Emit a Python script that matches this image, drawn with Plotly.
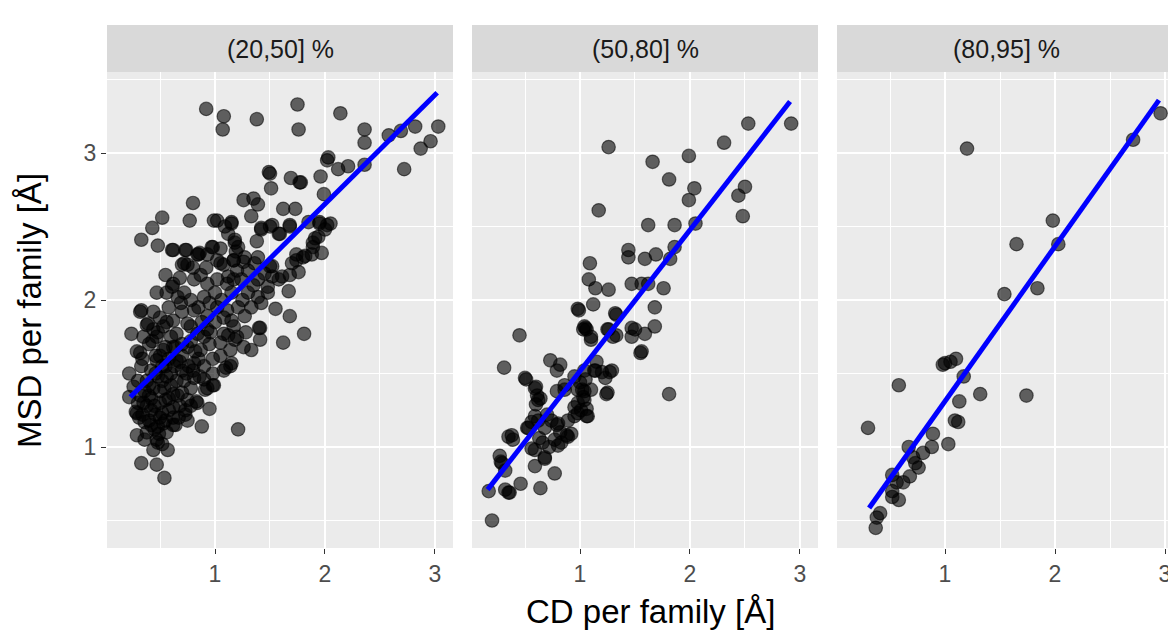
import plotly.graph_objects as go

# ---------------- data ----------------
facet_labels = ["(20,50] %", "(50,80] %", "(80,95] %"]
x_title = "CD per family [Å]"
y_title = "MSD per family [Å]"
x_tick_vals = [1, 2, 3]
y_tick_vals = [1, 2, 3]

p1_cd = [
    0.92, 1.08, 1.07, 1.38, 1.75, 1.76, 2.14, 2.36, 2.36, 2.58,
    2.69, 2.82, 3.03, 2.96, 2.87, 2.72, 2.03, 2.02, 2.12, 2.21,
    2.36, 1.49, 1.50, 1.51, 1.69, 1.77, 1.78, 1.96, 1.99, 0.80,
    1.26, 1.35, 1.39, 1.33, 1.62, 1.73, 1.85, 1.95, 2.02, 0.52,
    0.43, 0.33, 0.77, 0.99, 1.09, 1.15, 0.48, 0.62, 0.74, 0.86,
    0.98, 1.18, 1.19, 1.38, 1.42, 1.50, 1.59, 1.68, 1.74, 1.80,
    1.97, 1.89, 1.94, 0.55, 0.70, 0.72, 1.05, 1.17, 1.26, 1.39,
    1.50, 1.61, 1.68, 1.76, 0.47, 0.61, 1.67, 1.55, 1.68, 1.81,
    1.41, 1.20, 0.24, 0.33, 0.39, 0.29, 0.22, 0.22, 0.29, 0.29,
    0.36, 0.44, 0.48, 0.33, 0.47, 0.54, 0.83, 0.95, 0.88, 1.21,
    0.98, 0.91, 1.15, 1.10, 1.33, 1.41, 1.40, 1.62, 1.26, 0.62,
    0.73, 0.61, 0.73, 0.85, 0.97, 1.02, 1.15, 0.26, 0.31, 0.28,
    0.47, 0.49, 0.84, 0.75, 0.73, 0.75, 0.70, 0.64, 0.62, 0.53,
    0.52, 0.93, 0.99, 0.90, 0.81, 1.08, 1.14, 0.56, 0.32, 0.44,
    0.38, 0.32, 0.43, 0.47, 0.44, 0.75, 0.84, 0.93, 1.02, 1.08,
    1.17, 0.62, 0.72, 0.81, 0.87, 0.93, 1.02, 1.11, 1.17, 0.69,
    0.81, 0.62, 0.75, 0.53, 0.65, 0.84, 0.93, 1.02, 1.11, 0.93,
    1.08, 1.17, 1.05, 1.14, 0.87, 0.75, 0.62, 0.53, 0.47, 0.65,
    0.81, 1.12, 1.21, 1.27, 1.36, 1.12, 1.24, 1.39, 1.48, 1.15,
    1.30, 1.39, 1.48, 1.21, 1.33, 1.27, 1.15, 1.12, 1.18, 1.45,
    1.52, 1.58, 1.70, 1.74, 1.18, 1.42, 1.52, 1.58, 1.68, 1.95,
    2.05, 2.00, 1.91, 1.89, 1.82, 1.88, 1.52, 0.35, 0.40, 0.45,
    0.50, 0.55, 0.60, 0.38, 0.42, 0.48, 0.55, 0.60, 0.65, 0.68,
    0.58, 0.40, 0.45, 0.50, 0.56, 0.36, 0.33, 0.52, 0.44, 0.62,
    0.70, 0.78, 0.72, 0.46, 0.55, 0.40, 0.60, 0.70, 0.78, 0.85,
    0.90, 0.88, 0.95, 0.98, 0.70, 0.58, 0.50, 0.78, 0.90, 1.00,
    0.85, 0.66, 0.98, 1.05, 0.42, 0.38, 0.52, 0.57, 0.30, 0.34,
    0.67, 0.78, 0.86, 0.76, 0.64, 0.48, 0.56, 0.35, 1.00, 1.08,
    1.06, 0.95, 1.25, 1.30, 1.20, 1.35, 1.05, 0.92, 0.80, 0.68,
    1.42, 1.28, 0.30, 0.34, 0.38, 0.42, 0.46, 0.50, 0.54, 0.58,
    0.62, 0.66, 0.40, 0.46, 0.52, 0.58, 0.63, 0.68, 0.74, 0.80,
    0.56, 0.50, 0.42, 0.48, 0.55, 0.36, 0.32, 0.70, 0.82, 0.90,
    0.96, 0.78,
]
p1_msd = [
    3.30, 3.25, 3.16, 3.23, 3.33, 3.16, 3.27, 3.16, 3.07, 3.12,
    3.15, 3.18, 3.18, 3.08, 3.03, 2.89, 2.97, 2.95, 2.89, 2.91,
    2.92, 2.87, 2.86, 2.76, 2.83, 2.80, 2.80, 2.84, 2.72, 2.66,
    2.68, 2.69, 2.65, 2.57, 2.62, 2.62, 2.53, 2.53, 2.51, 2.56,
    2.49, 2.41, 2.54, 2.54, 2.50, 2.52, 2.37, 2.34, 2.34, 2.32,
    2.36, 2.39, 2.33, 2.40, 2.48, 2.50, 2.45, 2.50, 2.31, 2.29,
    2.32, 2.39, 2.43, 2.17, 2.24, 2.25, 2.25, 2.27, 2.26, 2.29,
    2.23, 2.16, 2.17, 2.19, 2.05, 2.09, 2.06, 1.94, 1.89, 1.77,
    1.81, 1.75, 1.77, 1.93, 1.84, 1.65, 1.50, 1.34, 1.23, 1.08,
    1.05, 0.98, 1.03, 0.89, 0.88, 0.79, 1.31, 1.26, 1.14, 1.12,
    1.42, 1.39, 1.57, 1.54, 1.66, 1.73, 1.81, 1.71, 1.68, 1.15,
    1.22, 2.34, 2.34, 2.31, 2.36, 2.54, 2.53, 1.41, 1.20, 1.24,
    1.05, 1.09, 1.30, 1.18, 1.25, 1.32, 1.37, 1.15, 1.20, 1.16,
    1.23, 1.40, 1.42, 1.46, 1.47, 1.52, 1.55, 2.05, 1.92, 1.92,
    1.83, 1.64, 1.72, 1.75, 1.80, 2.24, 2.31, 2.31, 2.27, 2.24,
    2.27, 2.11, 2.05, 2.14, 2.17, 2.11, 2.14, 2.11, 2.14, 1.98,
    1.93, 1.86, 1.84, 1.82, 1.77, 1.77, 1.89, 1.95, 1.93, 1.80,
    1.77, 1.82, 1.71, 1.66, 1.66, 1.68, 1.68, 1.66, 1.59, 1.59,
    1.57, 2.45, 2.36, 2.29, 2.25, 2.16, 2.14, 2.14, 2.09, 2.05,
    2.05, 2.02, 2.05, 1.95, 1.95, 1.89, 1.86, 1.76, 1.73, 2.18,
    2.16, 2.14, 2.25, 2.27, 2.41, 2.49, 2.51, 2.45, 2.51, 2.52,
    2.52, 2.48, 2.42, 2.36, 2.30, 2.31, 2.23, 1.30, 1.35, 1.28,
    1.38, 1.32, 1.42, 1.45, 1.52, 1.48, 1.55, 1.50, 1.45, 1.28,
    1.25, 1.18, 1.12, 1.20, 1.10, 1.38, 1.55, 1.45, 1.40, 1.36,
    1.52, 1.40, 1.45, 1.62, 1.68, 1.70, 1.75, 1.62, 1.72, 1.60,
    1.55, 1.85, 1.70, 1.60, 1.92, 1.95, 1.88, 2.00, 2.02, 2.05,
    1.95, 2.02, 1.50, 1.62, 1.25, 1.10, 1.02, 0.98, 1.45, 1.60,
    1.20, 1.28, 1.48, 1.55, 1.68, 1.78, 1.85, 1.75, 1.85, 1.88,
    2.00, 1.98, 2.00, 2.20, 2.20, 2.10, 2.35, 2.22, 2.22, 2.15,
    1.98, 1.78, 1.30, 1.22, 1.28, 1.33, 1.22, 1.30, 1.40, 1.33,
    1.27, 1.35, 1.42, 1.50, 1.55, 1.60, 1.55, 1.58, 1.50, 1.52,
    1.48, 1.62, 1.15, 1.14, 1.18, 1.17, 1.35, 1.70, 1.65, 1.75,
    1.78, 1.82,
]

p2_cd = [
    2.53, 2.92, 2.31, 1.26, 1.99, 1.66, 1.81, 2.04, 1.99, 2.50,
    2.44, 2.48, 1.17, 1.62, 1.86, 2.05, 1.44, 1.44, 1.59, 1.69,
    1.82, 1.86, 1.09, 1.08, 1.14, 1.26, 1.47, 1.56, 1.62, 1.76,
    0.99, 1.12, 1.33, 1.68, 1.05, 1.06, 1.10, 0.45, 1.26, 1.47,
    1.50, 1.59, 1.68, 1.33, 1.47, 1.55, 1.56, 0.31, 0.73, 0.82,
    0.79, 0.50, 0.51, 0.59, 0.61, 0.64, 0.62, 0.79, 0.86, 0.95,
    1.00, 1.05, 1.15, 1.14, 1.20, 1.29, 1.23, 1.24, 1.81, 1.02,
    1.03, 1.06, 1.06, 0.95, 0.89, 0.98, 0.52, 0.59, 0.62, 0.70,
    0.74, 0.79, 0.82, 0.89, 0.77, 0.80, 0.35, 0.38, 0.56, 0.59,
    0.68, 0.59, 0.27, 0.29, 0.32, 0.77, 0.46, 0.64, 0.32, 0.35,
    0.36, 0.17, 0.20, 0.60, 0.60, 0.86, 1.04, 1.13, 1.27, 1.25,
    0.98, 1.04, 1.10, 0.98, 1.04, 1.01, 0.95, 1.07, 0.92, 0.80,
    0.83, 0.88, 0.68, 0.56, 0.53, 0.39, 0.63, 0.66, 0.72, 0.68,
    0.28, 0.98, 1.04, 1.03, 1.10, 1.32, 1.25, 1.30,
]
p2_msd = [
    3.20, 3.20, 3.07, 3.04, 2.98, 2.94, 2.82, 2.76, 2.68, 2.77,
    2.71, 2.57, 2.61, 2.51, 2.51, 2.52, 2.34, 2.29, 2.28, 2.31,
    2.28, 2.36, 2.25, 2.14, 2.08, 2.07, 2.11, 2.11, 2.11, 2.08,
    1.93, 1.97, 1.90, 1.95, 1.81, 1.80, 1.75, 1.76, 1.80, 1.81,
    1.80, 1.77, 1.82, 1.76, 1.75, 1.64, 1.65, 1.54, 1.59, 1.56,
    1.52, 1.47, 1.46, 1.40, 1.35, 1.33, 1.32, 1.38, 1.39, 1.48,
    1.44, 1.46, 1.58, 1.52, 1.51, 1.52, 1.47, 1.36, 1.36, 1.39,
    1.34, 1.26, 1.21, 1.27, 1.18, 1.23, 1.13, 1.21, 1.18, 1.22,
    1.18, 1.15, 1.10, 1.07, 1.05, 1.01, 1.07, 1.08, 0.99, 0.98,
    0.92, 0.87, 0.94, 0.89, 0.84, 0.82, 0.75, 0.72, 0.71, 0.69,
    0.69, 0.70, 0.50, 1.41, 1.29, 1.42, 1.52, 1.52, 1.51, 1.37,
    1.39, 1.38, 1.39, 1.30, 1.32, 1.25, 1.21, 1.21, 1.09, 1.16,
    1.03, 1.08, 1.13, 1.17, 1.13, 1.05, 1.06, 1.03, 1.00, 0.93,
    0.90, 1.94, 1.82, 1.80, 1.73, 1.91, 1.80, 1.75,
]

p3_cd = [
    2.96, 2.71, 1.20, 1.98, 1.65, 2.03, 1.84, 1.54, 1.10, 1.00,
    0.98, 1.05, 1.17, 0.58, 1.32, 1.74, 1.13, 1.09, 1.12, 0.30,
    0.89, 0.88, 1.03, 0.67, 0.80, 0.71, 0.73, 0.76, 0.52, 0.68,
    0.62, 0.56, 0.52, 0.52, 0.58, 0.41, 0.38, 0.37,
]
p3_msd = [
    3.27, 3.09, 3.03, 2.54, 2.38, 2.38, 2.08, 2.04, 1.60, 1.57,
    1.56, 1.58, 1.48, 1.42, 1.36, 1.35, 1.31, 1.18, 1.17, 1.13,
    1.09, 1.00, 1.02, 1.00, 0.96, 0.93, 0.89, 0.86, 0.81, 0.80,
    0.76, 0.76, 0.70, 0.66, 0.64, 0.55, 0.52, 0.45,
]

# linear-fit lines (start / end)
fit1_cd = [0.23, 3.02]
fit1_msd = [1.34, 3.41]
fit2_cd = [0.16, 2.91]
fit2_msd = [0.71, 3.35]
fit3_cd = [0.31, 2.945]
fit3_msd = [0.585, 3.36]

# ---------------- figure ----------------
WIN_W, WIN_H = 1176, 643
OFF = 8                      # default page margin of the HTML body
W, H = WIN_W - OFF, WIN_H - OFF
FONT = "Liberation Sans, Arial, Helvetica, sans-serif"


def px_x(p):
    return (p - OFF) / W


def px_y(p):
    return 1 - (p - OFF) / H


panel_px = [(107, 453), (472, 818), (837, 1176)]
x_ranges = [[0.018, 3.164], [0.018, 3.164], [0.018, 3.100]]
y_range = [0.313, 3.551]
ydom = [px_y(548), px_y(72)]

panels = [
    (p1_cd, p1_msd, fit1_cd, fit1_msd),
    (p2_cd, p2_msd, fit2_cd, fit2_msd),
    (p3_cd, p3_msd, fit3_cd, fit3_msd),
]

fig = go.Figure()
layout = dict(
    width=W, height=H,
    margin=dict(l=0, r=0, t=0, b=0),
    paper_bgcolor="white",
    plot_bgcolor="#EBEBEB",
    showlegend=False,
    font=dict(family=FONT, color="#4D4D4D"),
)

shapes = []
annotations = []
for i, (xs, ys, fx, fy) in enumerate(panels):
    sfx = "" if i == 0 else str(i + 1)
    fig.add_trace(go.Scatter(
        x=xs, y=ys, mode="markers", xaxis="x" + sfx, yaxis="y" + sfx,
        marker=dict(size=13.5, color="rgba(0,0,0,0.6)",
                    line=dict(color="rgba(0,0,0,0.55)", width=1.2)),
        hoverinfo="skip", showlegend=False,
    ))
    fig.add_trace(go.Scatter(
        x=fx, y=fy, mode="lines", xaxis="x" + sfx, yaxis="y" + sfx,
        line=dict(color="#0000FF", width=5),
        hoverinfo="skip", showlegend=False,
    ))
    l, r = panel_px[i]
    layout["xaxis" + sfx] = dict(
        domain=[px_x(l), min(1.0, px_x(r))], range=x_ranges[i], anchor="y" + sfx,
        tickmode="array", tickvals=x_tick_vals, ticktext=[str(v) for v in x_tick_vals],
        ticks="outside", ticklen=5, tickwidth=1.4, tickcolor="#333333",
        tickfont=dict(size=23, color="#4D4D4D", family=FONT),
        showgrid=True, gridcolor="white", gridwidth=1.9,
        minor=dict(tickvals=[0.5, 1.5, 2.5], showgrid=True, gridcolor="white",
                   gridwidth=0.9, ticks=""),
        zeroline=False, showline=False,
    )
    layout["yaxis" + sfx] = dict(
        domain=ydom, range=y_range, anchor="x" + sfx,
        tickmode="array", tickvals=y_tick_vals, ticktext=[str(v) for v in y_tick_vals],
        ticks="outside" if i == 0 else "", ticklen=5, tickwidth=1.4, tickcolor="#333333",
        showticklabels=(i == 0),
        tickfont=dict(size=23, color="#4D4D4D", family=FONT),
        showgrid=True, gridcolor="white", gridwidth=1.9,
        minor=dict(tickvals=[0.5, 1.5, 2.5, 3.5], showgrid=True, gridcolor="white",
                   gridwidth=0.9, ticks=""),
        zeroline=False, showline=False,
    )
    # strip
    shapes.append(dict(type="rect", xref="paper", yref="paper",
                       x0=px_x(l), x1=min(1.0, px_x(r)), y0=px_y(72), y1=px_y(25),
                       fillcolor="#D9D9D9", line=dict(width=0), layer="below"))
    annotations.append(dict(text=facet_labels[i], xref="paper", yref="paper",
                            x=px_x((l + r) / 2), y=px_y(49),
                            xanchor="center", yanchor="middle", showarrow=False,
                            font=dict(size=25, color="#1A1A1A", family=FONT)))

annotations.append(dict(text=x_title, xref="paper", yref="paper",
                        x=px_x(650), y=px_y(611), xanchor="center", yanchor="middle",
                        showarrow=False, font=dict(size=33, color="black", family=FONT)))
annotations.append(dict(text=y_title, xref="paper", yref="paper",
                        x=px_x(30), y=px_y(311), xanchor="center", yanchor="middle",
                        textangle=-90, showarrow=False,
                        font=dict(size=33, color="black", family=FONT)))

layout["shapes"] = shapes
layout["annotations"] = annotations
fig.update_layout(**layout)

fig.write_html("out.html")
